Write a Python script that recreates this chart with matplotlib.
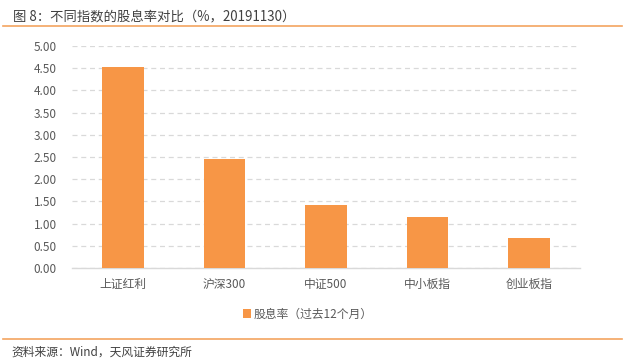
import matplotlib
matplotlib.use('Agg')
import matplotlib.pyplot as plt
from matplotlib.lines import Line2D
from matplotlib.patches import Patch

plt.rcParams['font.family'] = ['Noto Sans CJK SC', 'DejaVu Sans']

# data
categories = ['上证红利', '沪深300', '中证500', '中小板指', '创业板指']
dividend_yield = [4.52, 2.45, 1.43, 1.16, 0.67]
y_ticks = [0.0, 0.5, 1.0, 1.5, 2.0, 2.5, 3.0, 3.5, 4.0, 4.5, 5.0]

title = '图 8：不同指数的股息率对比（%，20191130）'
legend_label = '股息率（过去12个月）'
source = '资料来源：Wind，天风证券研究所'

bar_color = '#F79646'
text_gray = '#595959'

fig = plt.figure(figsize=(6.28, 3.64), dpi=100)
ax = fig.add_axes([0.1146, 0.2637, 0.8090, 0.6099])

x = range(len(categories))
ax.bar(x, dividend_yield, width=0.41, color=bar_color, zorder=3)

ax.set_xlim(-0.5, len(categories) - 0.5)
ax.set_ylim(0, 5)
ax.set_yticks(y_ticks)
ax.set_yticklabels(['%.2f' % v for v in y_ticks])
ax.set_xticks(list(x))
ax.set_xticklabels(categories)

ax.yaxis.grid(True, color='#D9D9D9', linestyle=(0, (4, 3)), linewidth=0.9, zorder=0)
for side in ['left', 'right', 'top']:
    ax.spines[side].set_visible(False)
ax.spines['bottom'].set_color('#D9D9D9')
ax.spines['bottom'].set_linewidth(1.0)

ax.tick_params(axis='both', length=0, labelsize=8.5, colors=text_gray)
ax.tick_params(axis='y', pad=11)
ax.tick_params(axis='x', pad=7)

# legend below the axes
handle = Patch(facecolor=bar_color, edgecolor='none')
fig.legend([handle], [legend_label], loc='center', bbox_to_anchor=(0.49, 0.137),
           frameon=False, fontsize=8.5, handlelength=0.7, handleheight=0.7,
           handletextpad=0.2, labelcolor=text_gray)

# title and source with orange rules
fig.text(0.02, 0.955, title, fontsize=9.6, color='#404040', va='center', ha='left')
fig.add_artist(Line2D([0.005, 0.99], [0.9286, 0.9286], color='#F4A460', linewidth=1.2,
                      transform=fig.transFigure))
fig.add_artist(Line2D([0.005, 0.99], [0.069, 0.069], color='#F4A460', linewidth=1.2,
                      transform=fig.transFigure))
fig.text(0.018, 0.032, source, fontsize=8.5, color='#404040', va='center', ha='left')

fig.savefig('out.png', dpi=100)
